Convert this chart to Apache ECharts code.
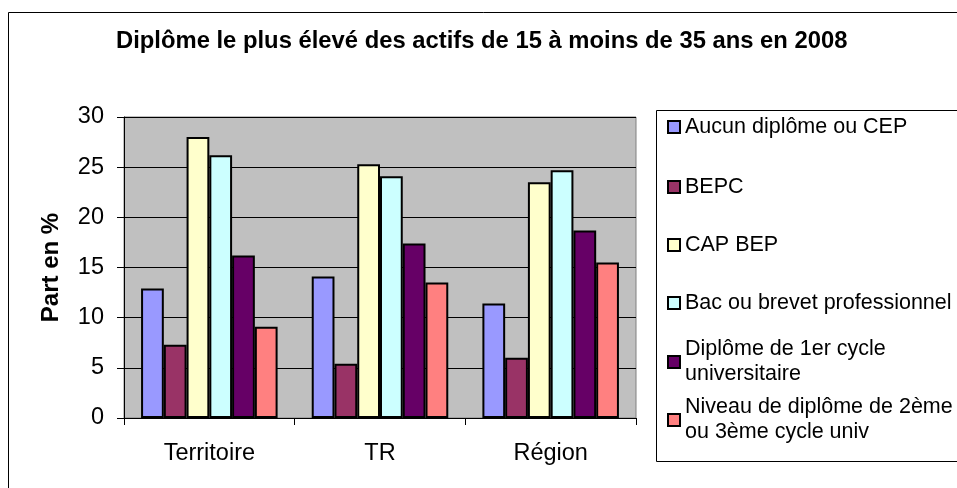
<!DOCTYPE html>
<html>
<head>
<meta charset="utf-8">
<script src="https://cdn.jsdelivr.net/npm/echarts@6/dist/echarts.min.js"></script>
<style>
  html, body { margin: 0; padding: 0; background: #fff; }
  #chart { width: 957px; height: 488px; }
</style>
</head>
<body>
<div id="chart"></div>
<script>
// catégories et valeurs
const categories = ["Territoire", "TR", "Région"];
const seriesNames = [
  "Aucun diplôme ou CEP",
  "BEPC",
  "CAP BEP",
  "Bac ou brevet professionnel",
  "Diplôme de 1er cycle universitaire",
  "Niveau de diplôme de 2ème ou 3ème cycle univ",
];
const aucunDiplome = [12.9, 14.1, 11.4];
const bepc = [7.3, 5.4, 6.0];
const capBep = [28.0, 25.3, 23.5];
const bacPro = [26.2, 24.1, 24.7];
const premierCycle = [16.2, 17.4, 18.7];
const deuxiemeCycle = [9.1, 13.5, 15.5];
// libellés de légende avec retour à la ligne
const legendLabels = [
  "Aucun diplôme ou CEP",
  "BEPC",
  "CAP BEP",
  "Bac ou brevet professionnel",
  "Diplôme de 1er cycle\nuniversitaire",
  "Niveau de diplôme de 2ème\nou 3ème cycle univ",
];
const yMin = 0, yMax = 30, yStep = 5;

const values = [aucunDiplome, bepc, capBep, bacPro, premierCycle, deuxiemeCycle];
const colors = ["#9999FF", "#993366", "#FFFFCC", "#CCFFFF", "#660066", "#FF8080"];

const chart = echarts.init(document.getElementById("chart"));

const font = "Liberation Sans, Arial, sans-serif";
const lh = 25;
// centres verticaux des entrées de légende (première ligne)
const legendCenters = [127, 187, 245, 303, 362, 420];

// une légende par série pour placer chaque entrée comme dans Excel
const legends = seriesNames.map((name, i) => {
  const multi = legendLabels[i].indexOf("\n") >= 0;
  return {
    data: [name],
    orient: "vertical",
    left: 667,
    top: multi ? legendCenters[i] - 1.5 * lh : legendCenters[i] - lh / 2,
    icon: "rect",
    itemWidth: 12,
    itemHeight: 12,
    padding: 0,
    selectedMode: false,
    formatter: () => legendLabels[i],
    textStyle: {
      fontFamily: font,
      fontSize: 21.5,
      color: "#000",
      lineHeight: lh,
      // décale le texte pour aligner l'icône sur la 1re ligne
      padding: multi ? [lh, 0, 0, 0] : 0,
    },
  };
});

const option = {
  animation: false,
  backgroundColor: "#fff",
  title: {
    text: "Diplôme le plus élevé des actifs de 15 à moins de 35 ans en 2008",
    left: 116,
    top: 29,
    padding: 0,
    textStyle: { fontFamily: font, fontSize: 23.8, fontWeight: "bold", color: "#000" },
  },
  legend: legends,
  grid: {
    left: 124,
    top: 117,
    right: 321,
    bottom: 70,
    show: true,
    backgroundColor: "#C0C0C0",
    borderColor: "#808080",
    borderWidth: 1,
  },
  xAxis: {
    type: "category",
    data: categories,
    axisLine: { lineStyle: { color: "#000", width: 1 } },
    axisTick: { show: true, length: 7, lineStyle: { color: "#000" } },
    axisLabel: { fontFamily: font, fontSize: 23.5, color: "#000", margin: 24 },
  },
  yAxis: {
    type: "value",
    min: yMin,
    max: yMax,
    interval: yStep,
    name: "Part en %",
    nameLocation: "middle",
    nameGap: 61,
    nameTextStyle: { fontFamily: font, fontSize: 24, fontWeight: "bold", color: "#000" },
    axisLine: { show: true, lineStyle: { color: "#000", width: 1 } },
    axisTick: { show: true, length: 7, lineStyle: { color: "#000" } },
    axisLabel: { fontFamily: font, fontSize: 23.5, color: "#000", margin: 20 },
    splitLine: { show: true, lineStyle: { color: "#000", width: 1 } },
  },
  graphic: [
    {
      type: "rect",
      shape: { x: 8.5, y: 12.5, width: 1200, height: 1200 },
      style: { fill: null, stroke: "#000", lineWidth: 1 },
      silent: true,
      z: -1,
    },
    {
      type: "rect",
      shape: { x: 656.5, y: 110.5, width: 400, height: 351 },
      style: { fill: null, stroke: "#000", lineWidth: 1 },
      silent: true,
      z: -1,
    },
  ],
  series: seriesNames.map((name, i) => ({
    name: name,
    type: "bar",
    data: values[i],
    barGap: "0%",
    barCategoryGap: "20%",
    itemStyle: { color: colors[i], borderColor: "#000", borderWidth: 2 },
  })),
};

chart.setOption(option);
</script>
</body>
</html>
